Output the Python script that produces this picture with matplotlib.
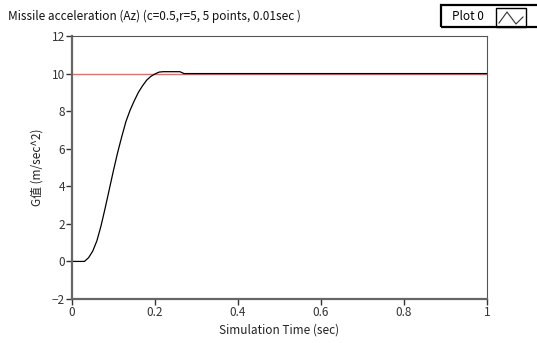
import matplotlib.pyplot as plt
from matplotlib.patches import Rectangle
from matplotlib.lines import Line2D

plt.rcParams['font.family'] = ['Noto Sans CJK TC', 'DejaVu Sans']

# simulated missile acceleration, 0.01 sec steps
t = [0.0, 0.01, 0.02, 0.03, 0.04, 0.05, 0.06, 0.07, 0.08, 0.09, 0.10,
     0.11, 0.12, 0.13, 0.14, 0.15, 0.16, 0.17, 0.18, 0.19, 0.20, 0.21,
     0.22, 0.23, 0.24, 0.25, 0.26, 0.27, 0.5, 1.0]
az = [0.0, 0.0, 0.0, 0.0, 0.2, 0.55, 1.1, 1.9, 2.85, 3.85, 4.85,
      5.8, 6.65, 7.45, 8.05, 8.55, 9.0, 9.35, 9.65, 9.85, 9.98, 10.08,
      10.1, 10.1, 10.1, 10.1, 10.1, 10.0, 10.0, 10.0]
# command (reference) value
ref_t = [0.0, 1.0]
ref_az = [10.0, 10.0]

xticks = [0, 0.2, 0.4, 0.6, 0.8, 1]
xlabels = ['0', '0.2', '0.4', '0.6', '0.8', '1']
yticks = [-2, 0, 2, 4, 6, 8, 10, 12]

fig = plt.figure(figsize=(5.37, 3.43), dpi=100)
ax = fig.add_axes([72 / 537, 1 - 299 / 343, 415 / 537, 263 / 343])

ax.plot(ref_t, ref_az, color='#ff6060', lw=1.0)
ax.plot(t, az, color='black', lw=0.9)

ax.set_xlim(0, 1)
ax.set_ylim(-2, 12)
ax.set_xticks(xticks)
ax.set_xticklabels(xlabels)
ax.set_yticks(yticks)
ax.tick_params(labelsize=8.5, colors='#333333', length=4, width=1, pad=1)
ax.set_xlabel('Simulation Time (sec)', fontsize=8.5, color='#222222', labelpad=3)
ax.set_ylabel('G值 (m/sec^2)', fontsize=8.5, color='#222222', labelpad=6)

for side in ['left', 'bottom']:
    ax.spines[side].set_color('#666666')
    ax.spines[side].set_linewidth(1.6)
for side in ['top', 'right']:
    ax.spines[side].set_color('#555555')
    ax.spines[side].set_linewidth(0.8)

fig.text(8 / 537, 1 - 16 / 343, 'Missile acceleration (Az) (c=0.5,r=5, 5 points, 0.01sec )',
         fontsize=8.5, color='#111111', va='center', ha='left')

# legend box like the original front panel
fig.patches.append(Rectangle((441 / 537, 1 - 27 / 343), 110 / 537, 22 / 343,
                             transform=fig.transFigure, fill=False,
                             edgecolor='black', lw=1.6))
fig.patches.append(Rectangle((496 / 537, 1 - 27 / 343), 30 / 537, 19 / 343,
                             transform=fig.transFigure, fill=False,
                             edgecolor='black', lw=1.0))
fig.text(484 / 537, 1 - 16 / 343, 'Plot 0', fontsize=8.5, color='black',
         va='center', ha='right')
icon_x = [499 / 537, 507 / 537, 516 / 537, 523 / 537]
icon_y = [1 - 23 / 343, 1 - 12 / 343, 1 - 24 / 343, 1 - 17 / 343]
fig.lines.append(Line2D(icon_x, icon_y, transform=fig.transFigure,
                        color='#333333', lw=0.8))

fig.savefig('out.png', dpi=100)
